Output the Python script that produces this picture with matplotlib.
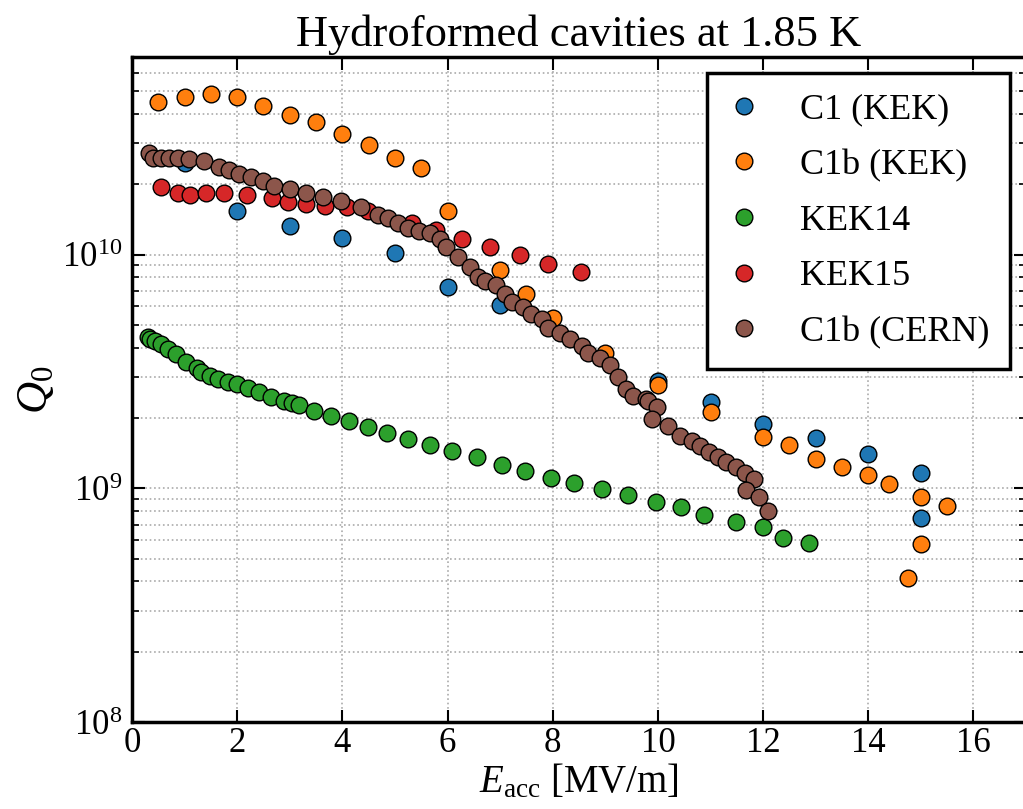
import numpy as np
import matplotlib
matplotlib.use("Agg")
import matplotlib.pyplot as plt

plt.rcParams['font.family'] = ['Liberation Serif', 'DejaVu Serif']
plt.rcParams['mathtext.fontset'] = 'custom'
plt.rcParams['mathtext.rm'] = 'Liberation Serif'
plt.rcParams['mathtext.it'] = 'Liberation Serif:italic'

# C1 (KEK)
c1_x = [1, 2, 3, 4, 5, 6, 7, 10, 11, 12, 13, 14, 15, 15]
c1_q = [2.46e10, 1.54e10, 1.33e10, 1.18e10, 1.02e10, 7.25e9, 6.1e9,
        2.88e9, 2.34e9, 1.89e9, 1.64e9, 1.40e9, 1.16e9, 7.45e8]

# C1b (KEK)
c1b_x = [0.5, 1.0, 1.5, 2.0, 2.5, 3.0, 3.5, 4.0, 4.5, 5.0, 5.5, 6.0, 7.0, 7.5,
         8.0, 9.0, 10.0, 11.0, 12.0, 12.5, 13.0, 13.5, 14.0, 14.4, 15.0, 15.5,
         15.0, 14.75]
c1b_q = [4.48e10, 4.74e10, 4.84e10, 4.70e10, 4.34e10, 3.96e10, 3.69e10, 3.29e10,
         2.93e10, 2.58e10, 2.34e10, 1.54e10, 8.63e9, 6.75e9, 5.37e9, 3.8e9,
         2.76e9, 2.12e9, 1.66e9, 1.53e9, 1.34e9, 1.23e9, 1.14e9, 1.04e9,
         9.16e8, 8.36e8, 5.79e8, 4.15e8]

# KEK14
k14_x = [0.31, 0.35, 0.44, 0.56, 0.69, 0.83, 1.02, 1.24, 1.32, 1.48, 1.64, 1.82,
         2.0, 2.2, 2.42, 2.65, 2.89, 3.05, 3.18, 3.46, 3.79, 4.12, 4.48, 4.84,
         5.24, 5.66, 6.09, 6.56, 7.03, 7.47, 7.96, 8.41, 8.93, 9.43, 9.96,
         10.44, 10.87, 11.48, 12.0, 12.38, 12.87]
k14_q = [4.45e9, 4.36e9, 4.27e9, 4.13e9, 3.96e9, 3.74e9, 3.47e9, 3.28e9, 3.15e9,
         3.03e9, 2.93e9, 2.86e9, 2.79e9, 2.68e9, 2.59e9, 2.47e9, 2.37e9, 2.31e9,
         2.27e9, 2.14e9, 2.04e9, 1.95e9, 1.83e9, 1.73e9, 1.62e9, 1.53e9, 1.44e9,
         1.36e9, 1.26e9, 1.19e9, 1.11e9, 1.05e9, 9.94e8, 9.37e8, 8.72e8, 8.3e8,
         7.7e8, 7.16e8, 6.82e8, 6.14e8, 5.83e8]

# KEK15
k15_x = [0.55, 0.88, 1.1, 1.4, 1.75, 2.18, 2.67, 2.97, 3.3, 3.67, 4.08, 4.48,
         5.32, 5.78, 6.27, 6.8, 7.37, 7.91, 8.53]
k15_q = [1.94e10, 1.83e10, 1.79e10, 1.83e10, 1.83e10, 1.79e10, 1.74e10, 1.68e10,
         1.64e10, 1.62e10, 1.59e10, 1.54e10, 1.36e10, 1.27e10, 1.17e10, 1.08e10,
         1.0e10, 9.15e9, 8.4e9]

# C1b (CERN)
cern_x = [0.33, 0.40, 0.56, 0.71, 0.87, 1.09, 1.37, 1.66, 1.85, 2.04, 2.27, 2.49,
          2.71, 3.0, 3.3, 3.63, 3.98, 4.35, 4.68, 4.87, 5.06, 5.25, 5.46, 5.66,
          5.85, 5.98, 6.2, 6.42, 6.58, 6.71, 6.93, 7.09, 7.22, 7.43, 7.58, 7.79,
          7.91, 8.13, 8.32, 8.55, 8.67, 8.9, 9.08, 9.24, 9.4, 9.53, 9.78, 9.81,
          9.98, 9.88, 10.19, 10.42, 10.64, 10.8, 10.97, 11.14, 11.3, 11.48,
          11.65, 11.82, 11.68, 11.93, 12.1]
cern_q = [2.71e10, 2.58e10, 2.6e10, 2.6e10, 2.6e10, 2.57e10, 2.52e10, 2.37e10,
          2.29e10, 2.21e10, 2.14e10, 2.07e10, 1.97e10, 1.91e10, 1.83e10, 1.76e10,
          1.69e10, 1.59e10, 1.48e10, 1.43e10, 1.36e10, 1.3e10, 1.26e10, 1.24e10,
          1.17e10, 1.08e10, 9.77e9, 8.83e9, 8.0e9, 7.69e9, 7.4e9, 6.79e9, 6.28e9,
          5.96e9, 5.58e9, 5.28e9, 4.86e9, 4.63e9, 4.34e9, 4.06e9, 3.8e9, 3.62e9,
          3.36e9, 3.0e9, 2.66e9, 2.49e9, 2.41e9, 2.37e9, 2.23e9, 1.98e9, 1.85e9,
          1.68e9, 1.6e9, 1.51e9, 1.43e9, 1.36e9, 1.3e9, 1.23e9, 1.16e9, 1.1e9,
          9.85e8, 9.16e8, 7.98e8]

series = [
    (c1_x, c1_q, 'C1 (KEK)', '#1f77b4'),
    (c1b_x, c1b_q, 'C1b (KEK)', '#ff7f0e'),
    (k14_x, k14_q, 'KEK14', '#2ca02c'),
    (k15_x, k15_q, 'KEK15', '#d62728'),
    (cern_x, cern_q, 'C1b (CERN)', '#8c564b'),
]

fig = plt.figure(figsize=(10.23, 8.09), dpi=100)
ax = fig.add_axes([0.129, 0.1075, 0.874, 0.822])

for x, q, lab, col in series:
    ax.plot(x, q, 'o', color=col, markeredgecolor='black', markeredgewidth=1.0,
            markersize=12, label=lab, linestyle='none')

ax.set_yscale('log')
ax.set_xlim(0, 17)
ax.set_ylim(1e8, 7e10)
ax.set_xticks(np.arange(0, 17, 2))

ax.grid(True, which='both', linestyle=':', color='#aaaaaa', linewidth=1.2)
ax.tick_params(which='both', direction='in', top=True, right=True, labelsize=25)
ax.tick_params(which='major', length=9, width=1.5)
ax.tick_params(which='minor', length=5, width=1.2)
ax.tick_params(axis='y', which='major', pad=7)
for s in ax.spines.values():
    s.set_linewidth(2.5)

ax.set_title('Hydroformed cavities at 1.85 K', fontsize=32, pad=8)
ax.set_xlabel(r'$E_{\rm acc}$ [MV/m]', fontsize=28, labelpad=2)
ax.set_ylabel(r'$Q_0$', fontsize=32, labelpad=4)

leg = ax.legend(loc='upper right', fontsize=26, markerscale=1.0, fancybox=False,
                framealpha=1, edgecolor='black', borderaxespad=0.45,
                handlelength=1.0, handletextpad=1.05, labelspacing=0.62,
                borderpad=0.55)
leg.get_frame().set_linewidth(2.5)

fig.savefig('out.png', dpi=100)
